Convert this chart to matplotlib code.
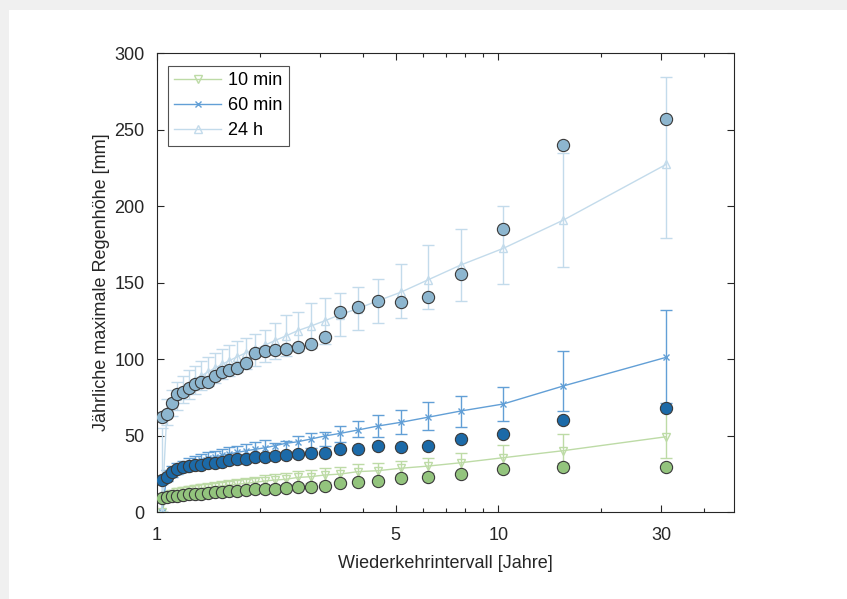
import matplotlib
matplotlib.use("Agg")
import matplotlib.pyplot as plt
from matplotlib.patches import Rectangle
from matplotlib.lines import Line2D
from matplotlib.ticker import FixedLocator, NullFormatter, FixedFormatter

plt.rcParams['font.family'] = ['Liberation Sans', 'DejaVu Sans']

# Return periods (years)
T = [1.033, 1.069, 1.107, 1.148, 1.19, 1.24, 1.29, 1.348, 1.409, 1.476,
     1.55, 1.63, 1.72, 1.82, 1.94, 2.07, 2.21, 2.38, 2.58, 2.82,
     3.1, 3.44, 3.875, 4.43, 5.17, 6.2, 7.75, 10.33, 15.5, 31.0]

# Observed annual maxima (circles)
obs_10 = [8.9, 10.0, 10.5, 10.7, 11.1, 11.5, 11.7, 12.1, 12.6, 13.0,
          13.3, 13.7, 13.9, 14.4, 14.8, 14.8, 15.2, 15.5, 16.1, 16.6,
          17.0, 18.7, 19.4, 20.5, 22.0, 23.1, 24.6, 27.9, 29.2, 29.6]
obs_60 = [20.9, 23.1, 26.4, 27.9, 29.2, 30.1, 30.5, 30.9, 31.8, 32.2,
          32.5, 34.0, 34.4, 34.9, 35.8, 36.2, 36.6, 37.3, 37.9, 38.3,
          38.3, 41.0, 41.4, 43.1, 42.7, 43.4, 47.5, 51.0, 60.1, 67.8]
obs_24 = [62.3, 63.8, 71.0, 77.0, 78.6, 81.3, 84.0, 84.8, 85.2, 89.0,
          91.7, 92.8, 93.9, 97.2, 103.7, 105.4, 105.9, 106.3, 108.0, 109.6,
          114.6, 130.9, 134.2, 137.9, 137.5, 140.7, 155.5, 185.2, 239.9, 256.9]

# Fitted values with confidence bounds
fit_10 = [0.0, 11.0, 12.0, 13.0, 13.7, 14.3, 15.0, 15.5, 16.0, 16.5,
          17.0, 17.5, 18.1, 18.7, 19.4, 20.3, 20.9, 21.4, 22.6, 23.1,
          24.2, 24.8, 26.4, 27.0, 28.6, 30.0, 32.2, 35.5, 40.1, 49.2]
lo_10 = [0.0, 8.5, 9.5, 10.4, 11.0, 11.6, 12.2, 12.6, 13.1, 13.5,
         13.9, 14.3, 14.8, 15.3, 15.9, 16.6, 17.1, 17.5, 18.4, 18.8,
         19.7, 20.1, 21.4, 21.8, 24.0, 25.3, 26.4, 27.5, 31.8, 35.5]
hi_10 = [7.0, 13.5, 14.5, 15.6, 16.4, 17.0, 17.8, 18.4, 18.9, 19.5,
         20.1, 20.7, 21.4, 22.1, 22.9, 24.0, 24.7, 25.3, 26.8, 27.4,
         28.7, 29.5, 31.4, 32.2, 33.5, 35.0, 38.3, 43.8, 51.0, 68.8]

fit_60 = [0.0, 24.0, 26.5, 28.5, 30.0, 31.5, 32.8, 34.0, 35.0, 36.0,
          37.0, 38.0, 39.0, 40.0, 41.0, 42.0, 43.3, 44.9, 45.9, 47.7,
          49.7, 51.4, 53.6, 56.2, 58.6, 61.9, 66.0, 70.6, 82.4, 101.1]
lo_60 = [0.0, 20.5, 23.0, 25.0, 26.4, 27.8, 29.0, 30.1, 31.0, 31.9,
         32.8, 33.7, 34.6, 35.4, 36.2, 37.0, 38.0, 39.4, 40.1, 41.6,
         43.2, 46.0, 49.0, 49.2, 51.0, 53.8, 55.4, 59.7, 66.0, 71.4]
hi_60 = [18.0, 27.5, 30.0, 32.0, 33.6, 35.2, 36.6, 37.9, 39.0, 40.1,
         41.2, 42.3, 43.4, 44.6, 45.8, 47.0, 45.3, 46.6, 49.7, 51.4,
         52.5, 56.2, 59.7, 63.4, 67.0, 72.1, 76.0, 81.9, 105.4, 132.0]

fit_24 = [0.0, 66.0, 72.0, 76.0, 80.0, 83.0, 86.0, 89.0, 91.5, 94.0,
          96.5, 99.0, 101.5, 104.0, 106.5, 109.0, 112.0, 115.0, 118.5, 121.5,
          125.0, 129.0, 133.0, 138.0, 143.6, 151.6, 161.4, 172.3, 190.8, 227.2]
lo_24 = [0.0, 57.0, 63.0, 67.0, 71.0, 74.0, 77.0, 80.0, 82.5, 84.5,
         87.0, 89.0, 91.5, 93.5, 95.5, 98.0, 100.0, 102.0, 105.0, 107.5,
         110.0, 115.0, 119.0, 123.7, 126.6, 132.5, 137.7, 148.8, 160.3, 179.3]
hi_24 = [55.0, 74.0, 80.0, 85.0, 89.0, 92.5, 95.5, 98.5, 101.5, 104.0,
         106.5, 109.0, 111.5, 114.0, 116.5, 119.0, 123.7, 128.8, 131.0, 136.4,
         140.0, 143.4, 147.0, 152.3, 162.0, 174.3, 184.8, 200.2, 234.4, 284.0]

labels = ['10 min', '60 min', '24 h']
line_colors = ['#bddba6', '#629fd6', '#c3dbeb']
dot_colors = ['#93c47d', '#1c6aa8', '#8db6cf']
markers = ['v', 'x', '^']

fig = plt.figure(figsize=(8.47, 5.99), dpi=100)
fig.patch.set_facecolor('#f0f0f0')
fig.add_artist(Rectangle((9 / 847, 0), 1 - 9 / 847, 1 - 10 / 599,
                         transform=fig.transFigure, facecolor='white',
                         edgecolor='none', zorder=-10))
ax = fig.add_axes([0.1854, 0.1452, 0.6812, 0.7663])

fits = [(fit_10, lo_10, hi_10), (fit_60, lo_60, hi_60), (fit_24, lo_24, hi_24)]
obs = [obs_10, obs_60, obs_24]

handles = []
for i in range(3):
    f, lo, hi = fits[i]
    yerr = [[f[j] - lo[j] for j in range(len(T))], [hi[j] - f[j] for j in range(len(T))]]
    ms = 6 if markers[i] != 'x' else 4
    ax.errorbar(T, f, yerr=yerr, color=line_colors[i], lw=1.0,
                marker=markers[i], markersize=ms,
                markerfacecolor='none', markeredgecolor=line_colors[i],
                capsize=4, elinewidth=1.0, capthick=1.0, zorder=2)
    handles.append(Line2D([], [], color=line_colors[i], lw=1.0, marker=markers[i],
                          markersize=ms, markerfacecolor='none',
                          markeredgecolor=line_colors[i], label=labels[i]))

for i in range(3):
    ax.plot(T, obs[i], 'o', markersize=8.8, markerfacecolor=dot_colors[i],
            markeredgecolor='#3a3a3a', markeredgewidth=0.8, zorder=3)

ax.set_xscale('log')
ax.set_xlim(1, 49)
ax.set_ylim(0, 300)
ax.xaxis.set_major_locator(FixedLocator([1, 5, 10, 30]))
ax.xaxis.set_major_formatter(FixedFormatter(['1', '5', '10', '30']))
ax.xaxis.set_minor_locator(FixedLocator([2, 3, 4, 6, 7, 8, 9, 20, 40]))
ax.xaxis.set_minor_formatter(NullFormatter())
ax.set_yticks([0, 50, 100, 150, 200, 250, 300])
ax.tick_params(which='both', direction='in', top=True, right=True,
               labelsize=13, colors='#262626', width=0.8)
ax.tick_params(which='major', length=5)
ax.tick_params(which='minor', length=3)
ax.tick_params(axis='x', which='major', pad=11)
ax.tick_params(axis='y', which='major', pad=9)
for s in ax.spines.values():
    s.set_color('#262626')
    s.set_linewidth(0.8)

ax.set_xlabel('Wiederkehrintervall [Jahre]', fontsize=13, color='#262626', labelpad=8)
ax.set_ylabel('Jährliche maximale Regenhöhe [mm]', fontsize=13, color='#262626', labelpad=3)

leg = ax.legend(handles=handles, loc='upper left', fontsize=13, frameon=True,
                fancybox=False, edgecolor='#262626', handlelength=2.6,
                borderpad=0.35, labelspacing=0.45, handletextpad=0.4,
                borderaxespad=0, bbox_to_anchor=(0.019, 0.972))
leg.get_frame().set_linewidth(0.8)

fig.savefig('out.png', dpi=100, facecolor=fig.get_facecolor())
